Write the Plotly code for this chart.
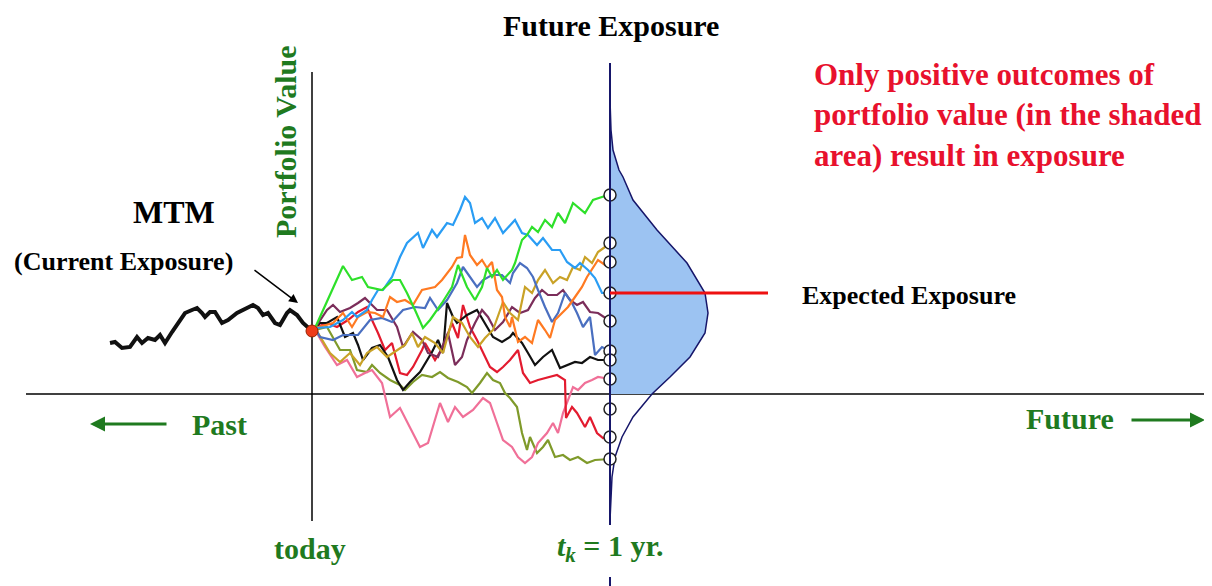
import plotly.graph_objects as go

# time in steps (TK steps = 1 year), value in arbitrary units (0 = zero portfolio value)
TK = 298

# ---------------------------
# DATA
# ---------------------------

hist_t = [-202, -197, -190, -182, -175, -170, -164, -157, -152, -147, -140, -134, -127, -120, -115, -110, -107,
          -102, -97, -90, -84, -75, -65, -59, -54, -49, -44, -37, -32, -25, -22, -15, -9, 0]
hist_v = [51, 52, 46, 47, 57, 51, 56, 54, 59, 51, 62, 71, 81, 84, 86, 81, 77, 82, 82, 71, 74, 81, 86, 89, 86, 79,
          81, 71, 69, 81, 84, 79, 71, 63]

green_t = [0, 3, 31, 40, 50, 56, 70, 81, 88, 95, 103, 111, 118, 130, 140, 146, 155, 163, 170, 175, 180, 185, 191,
           200, 203, 210, 215, 220, 226, 233, 240, 246, 253, 261, 273, 281, 293, 298]
green_v = [63, 66, 128, 114, 117, 107, 104, 114, 114, 101, 84, 66, 74, 91, 107, 129, 107, 94, 107, 126, 117, 124, 114,
           124, 131, 154, 159, 167, 162, 174, 167, 181, 171, 191, 181, 194, 198, 199]

blue_t = [0, 3, 18, 31, 40, 45, 55, 60, 66, 71, 80, 88, 95, 106, 111, 120, 125, 135, 141, 148, 153, 158, 163, 170,
          176, 183, 191, 203, 210, 216, 225, 231, 240, 248, 255, 263, 268, 276, 283, 290, 298]
blue_v = [63, 66, 67, 74, 82, 77, 84, 94, 104, 104, 117, 137, 151, 161, 146, 164, 157, 171, 169, 184, 197, 191, 171,
          176, 166, 176, 161, 174, 161, 159, 149, 156, 144, 144, 132, 126, 131, 124, 116, 101, 101]

orange_t = [0, 3, 21, 31, 40, 46, 55, 63, 71, 78, 85, 93, 101, 110, 123, 130, 140, 145, 150, 153, 158, 165, 170, 175,
            180, 185, 190, 193, 198, 200, 206, 213, 220, 226, 233, 238, 243, 250, 256, 263, 270, 275, 281, 286, 293,
            298]
orange_v = [63, 66, 71, 81, 67, 77, 82, 81, 77, 97, 92, 94, 89, 104, 107, 114, 127, 136, 137, 159, 139, 129, 134, 126,
            132, 104, 97, 77, 67, 77, 52, 57, 51, 74, 64, 56, 74, 81, 87, 97, 107, 117, 127, 134, 129, 132]

steel_t = [0, 3, 8, 21, 31, 46, 58, 70, 80, 91, 103, 113, 118, 126, 135, 145, 151, 158, 165, 171, 180, 190, 198, 201,
           208, 215, 221, 226, 233, 240, 246, 253, 260, 265, 271, 278, 281, 283, 290, 298]
steel_v = [63, 66, 57, 54, 59, 59, 74, 76, 72, 84, 87, 86, 96, 84, 94, 111, 127, 117, 107, 114, 119, 119, 111, 121,
           131, 126, 117, 104, 87, 72, 81, 101, 91, 81, 67, 77, 54, 39, 47, 43]

gold_t = [0, 3, 18, 28, 38, 48, 55, 65, 75, 85, 93, 100, 106, 113, 123, 131, 141, 150, 158, 166, 173, 181, 191, 198,
          206, 213, 220, 226, 233, 241, 248, 255, 261, 268, 273, 280, 286, 293, 298]
gold_v = [63, 66, 41, 32, 41, 29, 41, 47, 37, 44, 49, 61, 47, 57, 51, 41, 77, 71, 57, 47, 56, 64, 92, 81, 74, 107,
          101, 114, 124, 111, 117, 114, 127, 124, 137, 131, 142, 147, 151]

maroon_t = [0, 3, 15, 21, 28, 38, 46, 53, 58, 65, 75, 85, 91, 101, 110, 116, 126, 136, 143, 150, 155, 163, 170, 176,
            183, 191, 200, 208, 216, 223, 230, 236, 245, 251, 258, 265, 271, 278, 286, 298]
maroon_v = [63, 66, 84, 89, 82, 86, 91, 96, 91, 84, 84, 67, 47, 62, 54, 41, 37, 61, 29, 37, 54, 71, 84, 77, 64, 72,
            87, 81, 84, 96, 104, 99, 99, 104, 94, 89, 92, 82, 81, 73]

black_t = [0, 3, 8, 15, 25, 33, 41, 46, 51, 60, 68, 76, 85, 91, 98, 108, 120, 126, 131, 135, 141, 145, 155, 165, 173,
           181, 190, 198, 201, 210, 216, 223, 231, 240, 248, 255, 263, 270, 278, 286, 298]
black_v = [63, 66, 71, 71, 77, 57, 61, 49, 34, 46, 49, 37, 14, 4, 12, 22, 42, 54, 41, 91, 77, 71, 79, 84, 71, 57, 52,
           57, 61, 51, 41, 29, 37, 44, 26, 29, 32, 31, 37, 34, 34]

red_t = [0, 3, 15, 25, 36, 46, 55, 60, 66, 73, 80, 88, 95, 101, 110, 113, 123, 131, 140, 146, 151, 158, 165, 171, 178,
         185, 191, 198, 206, 211, 218, 226, 236, 245, 253, 254, 260, 265, 273, 278, 285, 291, 298]
red_v = [63, 66, 71, 67, 74, 82, 87, 74, 61, 44, 51, 21, 19, 27, 44, 51, 34, 47, 71, 56, 89, 67, 54, 41, 27, 22, 27,
         34, 44, 21, 11, 14, 17, 19, 14, -24, -13, -19, -33, -23, -39, -44, -43]

pink_t = [0, 3, 13, 25, 35, 45, 53, 60, 70, 73, 78, 88, 98, 108, 116, 128, 136, 143, 151, 161, 171, 178, 185, 191,
          200, 206, 213, 220, 226, 235, 241, 246, 251, 256, 261, 266, 273, 280, 286, 298]
pink_v = [63, 64, 47, 29, 34, 17, 21, 24, 11, -1, -23, -14, -33, -53, -49, -9, -28, -13, -23, -16, -4, -9, -29, -46,
          -53, -63, -69, -63, -49, -39, -29, -39, -19, -6, 7, 4, 11, 14, 17, 15]

olive_t = [0, 3, 15, 21, 28, 38, 45, 55, 60, 68, 78, 88, 93, 101, 110, 120, 128, 136, 146, 155, 160, 168, 175, 181,
           188, 193, 198, 205, 210, 215, 218, 225, 231, 236, 243, 251, 258, 266, 275, 283, 298]
olive_v = [63, 64, 67, 57, 44, 44, 24, 22, 29, 21, 14, 9, 4, 12, 19, 17, 22, 16, 12, 7, 1, 11, 21, 14, 11, 1, -4,
           -13, -39, -56, -43, -59, -53, -46, -63, -61, -66, -63, -69, -66, -65]

# simulated values at tk
end_v = [199, 151, 132, 101, 73, 43, 34, 15, -15, -43, -65]
expected_exposure = 101

# distribution of portfolio value at tk (value, density width)
dens_v = [294, 264, 244, 224, 217, 194, 164, 131, 101, 81, 61, 37, 17, 0, -23, -43, -63, -83, -126]
dens_w = [0, 1, 3, 9, 13, 23, 47, 77, 95, 98, 95, 80, 60, 42, 23, 12, 5, 2, 0]

# ---------------------------
# FIGURE
# ---------------------------

GREEN = "#1f7a1f"
RED = "#e8112d"
NAVY = "#16166a"
SERIF = "Liberation Serif"

paths = [
    (olive_t, olive_v, "#7f9a2a"),
    (pink_t, pink_v, "#f07098"),
    (red_t, red_v, "#e31b2f"),
    (black_t, black_v, "#111111"),
    (maroon_t, maroon_v, "#7b2d5a"),
    (gold_t, gold_v, "#c9a227"),
    (steel_t, steel_v, "#4a6fc0"),
    (orange_t, orange_v, "#ff7a22"),
    (blue_t, blue_v, "#2a9df4"),
    (green_t, green_v, "#2ee02a"),
]

fig = go.Figure()

# shaded positive part of the distribution
pos = [(v, w) for v, w in zip(dens_v, dens_w) if v >= 0]
fig.add_trace(go.Scatter(
    x=[TK] + [TK + w for v, w in pos] + [TK],
    y=[pos[0][0]] + [v for v, w in pos] + [0],
    fill="toself", fillcolor="#9cc3f2", mode="none", hoverinfo="skip"
))

fig.add_trace(go.Scatter(
    x=[TK + w for w in dens_w], y=dens_v, mode="lines",
    line=dict(color=NAVY, width=1.5), hoverinfo="skip"
))

fig.add_trace(go.Scatter(
    x=hist_t, y=hist_v, mode="lines",
    line=dict(color="#111111", width=4)
))

for t, v, c in paths:
    fig.add_trace(go.Scatter(x=t, y=v, mode="lines", line=dict(color=c, width=2.2)))

# tk line and expected exposure
fig.add_shape(type="line", x0=TK, x1=TK, y0=-131, y1=331, line=dict(color=NAVY, width=2))
fig.add_shape(type="line", x0=TK, x1=TK, y0=-183, y1=-195, line=dict(color=NAVY, width=2))
fig.add_shape(type="line", x0=TK, x1=456, y0=expected_exposure, y1=expected_exposure,
              line=dict(color="#ee1111", width=3))

fig.add_trace(go.Scatter(
    x=[TK] * len(end_v), y=end_v, mode="markers",
    marker=dict(size=12, color="white", line=dict(color="#222222", width=1.5))
))

fig.add_trace(go.Scatter(
    x=[0], y=[hist_v[-1]], mode="markers",
    marker=dict(size=12, color="#ee3a1a", line=dict(color="#992200", width=1))
))

# axes
fig.add_shape(type="line", x0=-286, x1=900, y0=0, y1=0, line=dict(color="black", width=1.5), layer="below")
fig.add_shape(type="line", x0=0, x1=0, y0=-127, y1=322, line=dict(color="black", width=1.5), layer="below")

# texts
def label(text, x, y, size, color="black", **kw):
    fig.add_annotation(text="<b>" + text + "</b>", x=x, y=y, showarrow=False,
                       font=dict(family=SERIF, size=size, color=color), **kw)

label("Future Exposure", 299, 369, 30)
label("Only positive outcomes of<br>portfolio value (in the shaded<br>area) result in exposure",
      500, 279, 31, RED, xanchor="left", align="left")
label("MTM", -138, 182, 32)
label("(Current Exposure)", -189, 133, 26)
label("Portfolio Value", -27, 252, 30, GREEN, textangle=-90)
label("Expected Exposure", 597, 99, 26, xanchor="center")
label("Past", -93, -30, 30, GREEN)
label("Future", 758, -24, 30, GREEN)
label("today", -2, -154, 30, GREEN)
label("<i>t</i><sub><i>k</i></sub> = 1 yr.", 298, -154, 30, GREEN)

# arrows
fig.add_annotation(x=-14, y=91, ax=-59, ay=125, axref="x", ayref="y", text="", showarrow=True,
                   arrowhead=2, arrowsize=1.2, arrowwidth=1.5, arrowcolor="black")
fig.add_annotation(x=-222, y=-30, ax=-144, ay=-30, axref="x", ayref="y", text="", showarrow=True,
                   arrowhead=2, arrowsize=1, arrowwidth=3, arrowcolor=GREEN)
fig.add_annotation(x=893, y=-26, ax=818, ay=-26, axref="x", ayref="y", text="", showarrow=True,
                   arrowhead=2, arrowsize=1, arrowwidth=3, arrowcolor=GREEN)

# the page body adds an 8px margin, so the figure is 8px smaller and the ranges start 8px in
fig.update_layout(
    width=1204,
    height=578,
    margin=dict(l=0, r=0, t=0, b=0),
    showlegend=False,
    plot_bgcolor="white",
    paper_bgcolor="white",
    xaxis=dict(range=[-304, 900], visible=False, fixedrange=True),
    yaxis=dict(range=[-192, 386], visible=False, fixedrange=True),
)

fig.write_html("out.html", config={"displayModeBar": False})
